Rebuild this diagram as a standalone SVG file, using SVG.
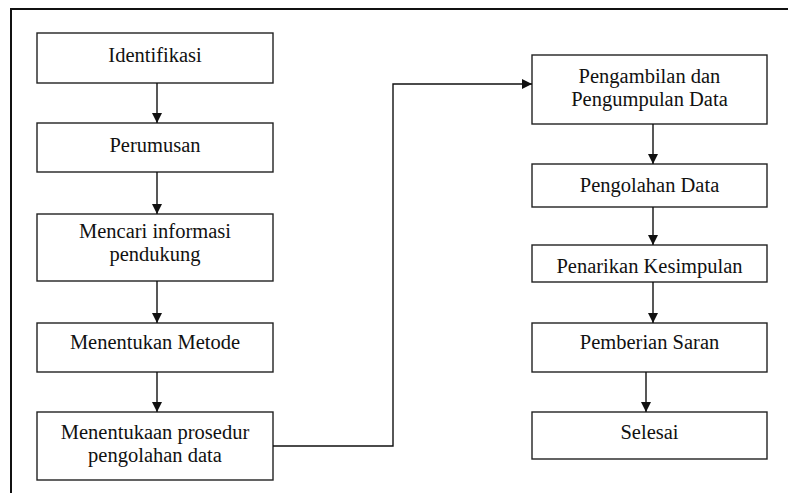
<svg xmlns="http://www.w3.org/2000/svg" width="788" height="493" viewBox="0 0 788 493">
<defs>
<marker id="ah" markerWidth="10" markerHeight="10" refX="10" refY="5" orient="auto" markerUnits="userSpaceOnUse">
<path d="M0,0 L10,5 L0,10 Z" fill="#111"/>
</marker>
<style>
.box{fill:#fff;stroke:#222;stroke-width:1.4}
.c{fill:none;stroke:#111;stroke-width:1.4}
.t{font-family:"Times New Roman",Times,"Liberation Serif",serif;font-size:20.5px;fill:#111;text-anchor:middle}
</style>
</defs>
<rect width="788" height="493" fill="#fff"/>
<path d="M11,493 V9 H788" fill="none" stroke="#111" stroke-width="2"/>
<g id="n1"><rect class="box" x="37" y="33" width="236" height="50"/><text class="t" x="155" y="62">Identifikasi</text></g>
<g id="n2"><rect class="box" x="37" y="123" width="236" height="49"/><text class="t" x="155" y="152">Perumusan</text></g>
<g id="n3"><rect class="box" x="37" y="214" width="236" height="67"/><text class="t" x="155" y="238">Mencari informasi</text><text class="t" x="155" y="261">pendukung</text></g>
<g id="n4"><rect class="box" x="37" y="323" width="236" height="49"/><text class="t" x="155" y="349">Menentukan Metode</text></g>
<g id="n5"><rect class="box" x="37" y="412" width="236" height="68"/><text class="t" x="155" y="439">Menentukaan prosedur</text><text class="t" x="155" y="462">pengolahan data</text></g>
<g id="r1"><rect class="box" x="532" y="55" width="235" height="69"/><text class="t" x="649.5" y="83">Pengambilan dan</text><text class="t" x="649.5" y="106">Pengumpulan Data</text></g>
<g id="r2"><rect class="box" x="532" y="164" width="235" height="43"/><text class="t" x="649.5" y="192">Pengolahan Data</text></g>
<g id="r3"><rect class="box" x="532" y="245" width="235" height="37"/><text class="t" x="649.5" y="273">Penarikan Kesimpulan</text></g>
<g id="r4"><rect class="box" x="532" y="323" width="235" height="49"/><text class="t" x="649.5" y="349">Pemberian Saran</text></g>
<g id="r5"><rect class="box" x="532" y="412" width="235" height="47"/><text class="t" x="649.5" y="439">Selesai</text></g>
<g id="connectors">
<path class="c" d="M157,83 V123" marker-end="url(#ah)"/>
<path class="c" d="M157,172 V214" marker-end="url(#ah)"/>
<path class="c" d="M157,281 V323" marker-end="url(#ah)"/>
<path class="c" d="M157,372 V412" marker-end="url(#ah)"/>
<path class="c" d="M273,446 H393 V84 H532" marker-end="url(#ah)"/>
<path class="c" d="M653,124 V164" marker-end="url(#ah)"/>
<path class="c" d="M653,207 V245" marker-end="url(#ah)"/>
<path class="c" d="M653,282 V323" marker-end="url(#ah)"/>
<path class="c" d="M646,372 V412" marker-end="url(#ah)"/>
</g>
</svg>
